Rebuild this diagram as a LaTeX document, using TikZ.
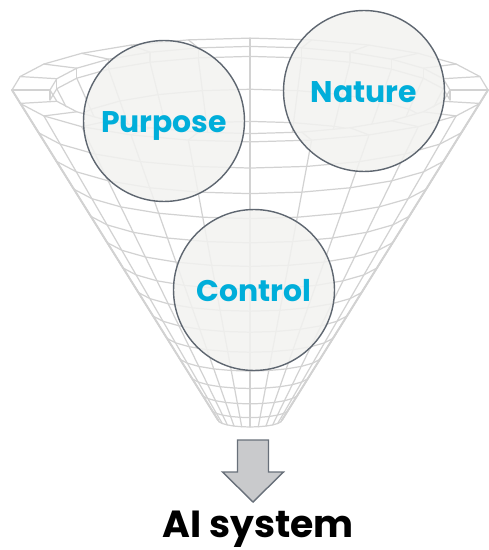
\documentclass[tikz,border=0pt]{standalone}
\usepackage{fontspec}
\setmainfont{Poppins}
\usepackage{xcolor}
\usetikzlibrary{positioning}
\definecolor{gridgray}{HTML}{D2D2D2}
\definecolor{ballfill}{HTML}{F2F2F0}
\definecolor{balledge}{HTML}{5E6670}
\definecolor{labelcyan}{HTML}{00AEDA}
\definecolor{arrowfill}{HTML}{C9CACC}
\definecolor{arrowedge}{HTML}{68707A}
\tikzset{
  grid/.style={gridgray, line width=0.7pt, line join=round},
  ball/.style={circle, draw=balledge, line width=0.8pt, fill=ballfill, fill opacity=0.85,
    text opacity=1, minimum size=3.22cm, inner sep=0pt, text height=13.6pt, text depth=0pt,
    font=\bfseries\fontsize{17}{17}\selectfont, text=labelcyan},
  arrowbox/.style={draw=arrowedge, fill=arrowfill, line width=0.8pt, line join=miter},
}
% funnel: centre and squash of the rings
\newcommand{\fx}{250}
\newcommand{\fk}{0.218}

\begin{document}
\begin{tikzpicture}[x=0.02cm, y=-0.02cm, line join = round, line cap = round]
                        \useasboundingbox (0,0) rectangle (489,550);

                        % back of the inner wall, seen through the opening
                        \begin{scope}
                            \clip plot[domain=0:360, samples=73] ({\fx+200*cos(\x)},{90+\fk*200*sin(\x)});
                            \foreach \i in {1,...,13}{
                                \pgfmathsetmacro\t{1-(1-\i/14)^1.3}
                                \pgfmathsetmacro\r{200-175*\t}
                                \pgfmathsetmacro\c{100+320*\t}
                                \draw[grid] plot[domain=180:360, samples=13] ({\fx+\r*cos(\x)},{\c+\fk*\r*sin(\x)});
                            }
                            \foreach \a in {180,195,...,360}{
                                \draw[grid] ({\fx+200*cos(\a)},{100+\fk*200*sin(\a)}) -- ({\fx+25*cos(\a)},{420+\fk*25*sin(\a)});
                            }
                        \end{scope}
                        % inner wall, back half
                        \draw[grid] plot[domain=180:360, samples=13] ({\fx+200*cos(\x)},{100+\fk*200*sin(\x)});
                        \foreach \a in {180,195,...,360}{
                            \draw[grid] ({\fx+200*cos(\a)},{90+\fk*200*sin(\a)}) -- ({\fx+200*cos(\a)},{100+\fk*200*sin(\a)});
                        }
                        % rim
                        \draw[grid] plot[domain=0:360, samples=25] ({\fx+238*cos(\x)},{90+\fk*238*sin(\x)});
                        \draw[grid] plot[domain=0:360, samples=25] ({\fx+200*cos(\x)},{90+\fk*200*sin(\x)});
                        \foreach \a in {0,15,...,345}{
                            \draw[grid] ({\fx+238*cos(\a)},{90+\fk*238*sin(\a)}) -- ({\fx+200*cos(\a)},{90+\fk*200*sin(\a)});
                        }
                        % outer surface, front half
                        \foreach \i in {1,...,13}{
                            \pgfmathsetmacro\t{1-(1-\i/14)^1.3}
                            \pgfmathsetmacro\r{238-206*\t}
                            \pgfmathsetmacro\c{90+330*\t}
                            \draw[grid] plot[domain=0:180, samples=13] ({\fx+\r*cos(\x)},{\c+\fk*\r*sin(\x)});
                        }
                        \draw[grid] plot[domain=0:180, samples=13] ({\fx+32*cos(\x)},{420+\fk*32*sin(\x)});
                        \foreach \a in {0,15,...,180}{
                            \draw[grid] ({\fx+238*cos(\a)},{90+\fk*238*sin(\a)}) -- ({\fx+32*cos(\a)},{420+\fk*32*sin(\a)});
                        }
                        % silhouette
                        \draw[grid, line width=1.1pt] ({\fx+238},90) -- ({\fx+32},420);
                        \draw[grid, line width=1.1pt] ({\fx-238},90) -- ({\fx-32},420);

                        % balls
                        \node[ball] (purpose) at (164,121) {Purpose};
                        \node[ball] (nature) at (364,91) {Nature};
                        \node[ball] (control) at (254,290) {Control};

                        % arrow and output
                        \coordinate (outlet) at (237.5,440);
                        \draw[arrowbox] (outlet) -- ++(31,0) -- ++(0,32) -- ++(15,0) -- ++(-30.5,30)
                            -- ++(-30.5,-30) -- ++(15,0) -- cycle;
                        \node[font=\bfseries\fontsize{21.5}{21.5}\selectfont, anchor=base, inner sep=0pt] (ai) at (258,537) {AI system};

                    \end{tikzpicture}
\end{document}
